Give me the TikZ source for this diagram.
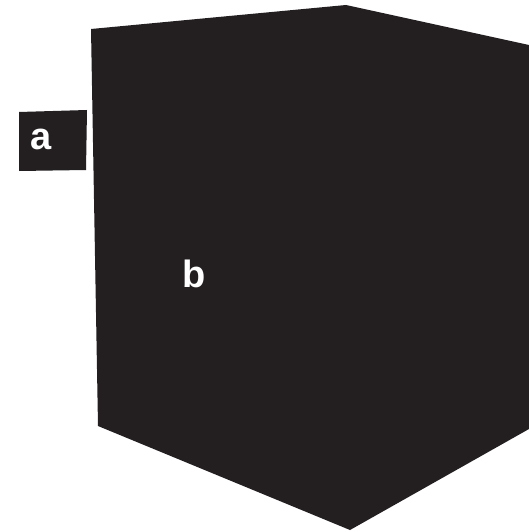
\documentclass[tikz,border=0pt]{standalone}
\usepackage{fontspec}
\setmainfont{Liberation Sans}
\definecolor{ink}{HTML}{231F20}
\begin{document}
\begin{tikzpicture}[x=1pt,y=-1pt,
  blk/.style={fill=ink,draw=none},
  lbl/.style={text=white,font=\fontsize{38}{40}\selectfont\bfseries,inner sep=0pt}]
\useasboundingbox (0,0) rectangle (529,532);
\fill[blk] (91,29) -- (346,5) -- (529,45) -- (529,429) -- (350,530) -- (98,426) -- cycle;
\fill[blk] (19,112) -- (87,110) -- (86,170) -- (19,171) -- cycle;
\node[lbl] (a) at (41,139) {a};
\node[lbl] (b) at (194,274) {b};
\end{tikzpicture}
\end{document}
